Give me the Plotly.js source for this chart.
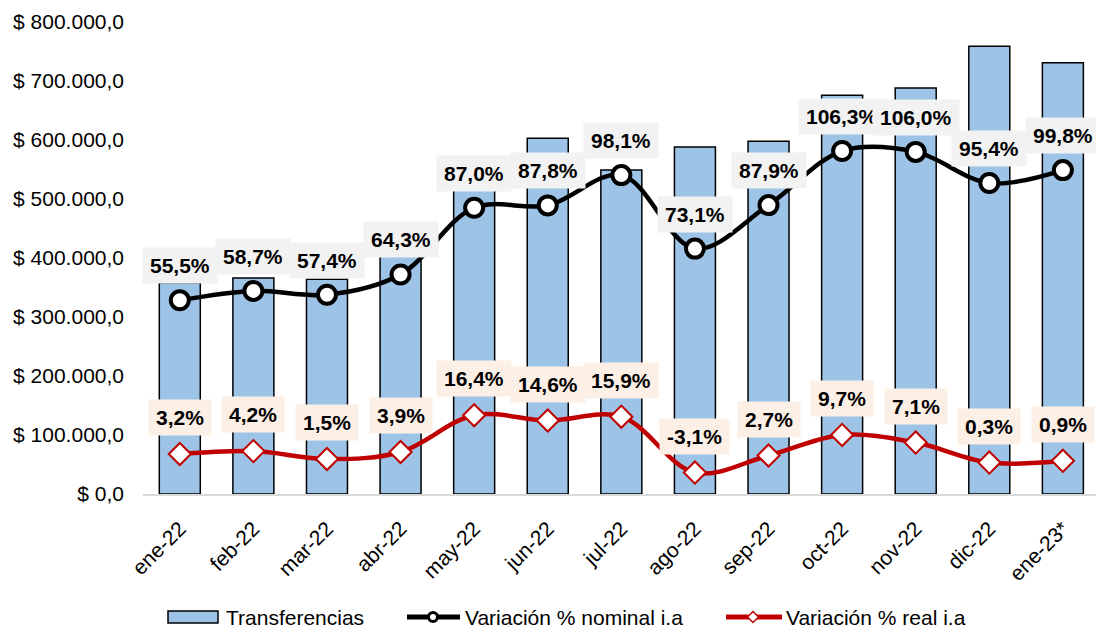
<!DOCTYPE html>
<html>
<head>
<meta charset="utf-8">
<script src="https://cdn.plot.ly/plotly-3.0.1.min.js"></script>
<style>html,body{margin:0;padding:0;background:#fff;}#chart{width:1096px;height:628px;}</style>
</head>
<body>
<div id="chart"></div>
<script>
const categories = ["ene-22","feb-22","mar-22","abr-22","may-22","jun-22","jul-22","ago-22","sep-22","oct-22","nov-22","dic-22","ene-23*"];
const transferencias = [358000, 366000, 364000, 410000, 515000, 603000, 549000, 588000, 598000, 676000, 688000, 759000, 731000];
const nominal = [55.5, 58.7, 57.4, 64.3, 87.0, 87.8, 98.1, 73.1, 87.9, 106.3, 106.0, 95.4, 99.8];
const real = [3.2, 4.2, 1.5, 3.9, 16.4, 14.6, 15.9, -3.1, 2.7, 9.7, 7.1, 0.3, 0.9];
const seriesNames = ['Transferencias', 'Variación % nominal i.a', 'Variación % real i.a'];

const fmtPct = v => v.toFixed(1).replace('.', ',') + '%';
const FONT = 'Liberation Sans, Arial, sans-serif';

const BAR_FILL = '#9dc3e6', NOM_COL = '#000000', REAL_COL = '#c00000';

const traces = [
  {
    type: 'bar', name: seriesNames[0], x: categories, y: transferencias,
    marker: {color: BAR_FILL, line: {color: '#000000', width: 1.5}},
    hoverinfo: 'skip', showlegend: false
  },
  {
    type: 'scatter', mode: 'lines+markers', name: seriesNames[1],
    x: categories, y: nominal, yaxis: 'y2', showlegend: false,
    line: {color: NOM_COL, width: 4.5, shape: 'spline', smoothing: 1},
    marker: {symbol: 'circle', size: 18, color: '#ffffff', line: {color: NOM_COL, width: 4}},
    hoverinfo: 'skip'
  },
  {
    type: 'scatter', mode: 'lines+markers', name: seriesNames[2],
    x: categories, y: real, yaxis: 'y2', showlegend: false,
    line: {color: REAL_COL, width: 4.5, shape: 'spline', smoothing: 1},
    marker: {symbol: 'diamond', size: 17, color: '#ffffff', line: {color: REAL_COL, width: 2}},
    hoverinfo: 'skip'
  }
];
// legend-only entries (symbols are drawn as shapes below)
['legend', 'legend2', 'legend3'].forEach((lg, i) => {
  traces.push({
    type: 'scatter', mode: 'lines', name: seriesNames[i], x: [null], y: [null],
    line: {color: 'rgba(0,0,0,0)', width: 1}, legend: lg, showlegend: true, hoverinfo: 'skip'
  });
});

const annotations = [];
categories.forEach((c, i) => {
  annotations.push({
    x: c, y: nominal[i], xref: 'x', yref: 'y2', text: fmtPct(nominal[i]),
    showarrow: false, yshift: 34.5, xanchor: 'center', yanchor: 'middle',
    font: {family: FONT, size: 21, color: '#000000', weight: 'bold'},
    bgcolor: '#f2f2f2', borderpad: 7, height: 21
  });
});
categories.forEach((c, i) => {
  annotations.push({
    x: c, y: real[i], xref: 'x', yref: 'y2', text: fmtPct(real[i]),
    showarrow: false, yshift: 36.5, xanchor: 'center', yanchor: 'middle',
    font: {family: FONT, size: 21, color: '#000000', weight: 'bold'},
    bgcolor: '#fcefe6', borderpad: 7, height: 21
  });
});

// legend symbol shapes (pixel -> paper conversion)
const PL = 143, PW = 953, PB = 494, PH = 472;
const px = v => (v - PL) / PW;
const py = v => (PB - v) / PH;
const LY = 617;
const shapes = [
  {type: 'rect', xref: 'paper', yref: 'paper', x0: px(168), x1: px(218), y0: py(LY - 6), y1: py(LY + 6),
   fillcolor: BAR_FILL, line: {color: '#000000', width: 1.5}},
  {type: 'line', xref: 'paper', yref: 'paper', x0: px(407), x1: px(460), y0: py(LY), y1: py(LY),
   line: {color: NOM_COL, width: 5}},
  {type: 'circle', xref: 'paper', yref: 'paper', x0: px(433 - 4.5), x1: px(433 + 4.5), y0: py(LY - 4.5), y1: py(LY + 4.5),
   fillcolor: '#ffffff', line: {color: NOM_COL, width: 3}},
  {type: 'line', xref: 'paper', yref: 'paper', x0: px(726), x1: px(782), y0: py(LY), y1: py(LY),
   line: {color: REAL_COL, width: 5}},
  {type: 'path', xref: 'paper', yref: 'paper',
   path: `M${px(753 - 5.5)},${py(LY)} L${px(753)},${py(LY - 5.5)} L${px(753 + 5.5)},${py(LY)} L${px(753)},${py(LY + 5.5)} Z`,
   fillcolor: '#ffffff', line: {color: REAL_COL, width: 1.5}}
];

const legendBase = {
  orientation: 'h', xanchor: 'left', y: -0.26, yanchor: 'middle',
  font: {family: FONT, size: 21, color: '#000000'}, bgcolor: 'rgba(0,0,0,0)'
};

const layout = {
  width: 1096, height: 628,
  margin: {l: 143, r: 0, t: 22, b: 134, autoexpand: false},
  paper_bgcolor: '#ffffff', plot_bgcolor: '#ffffff',
  font: {family: FONT, size: 21, color: '#000000'},
  separators: ',.',
  bargap: 0.443,
  showlegend: true,
  legend: Object.assign({}, legendBase, {x: 0.0451}),
  legend2: Object.assign({}, legendBase, {x: 0.2959}),
  legend3: Object.assign({}, legendBase, {x: 0.6327}),
  xaxis: {
    type: 'category', range: [-0.5, 12.45], tickangle: -45,
    showline: true, linecolor: '#d9d9d9', linewidth: 2,
    ticks: '', showgrid: false, zeroline: false, ticklabelstandoff: 12,
    tickfont: {family: FONT, size: 21, color: '#000000'}
  },
  yaxis: {
    range: [0, 800000], dtick: 100000, tick0: 0,
    tickprefix: '$ ', tickformat: ',.1f',
    showgrid: false, zeroline: false, showline: false, ticks: '',
    ticklabelstandoff: 18,
    tickfont: {family: FONT, size: 21, color: '#000000'}
  },
  yaxis2: {
    overlaying: 'y', side: 'right', range: [-10.4, 150.2],
    visible: false, showgrid: false, zeroline: false
  },
  annotations: annotations,
  shapes: shapes
};

Plotly.newPlot('chart', traces, layout, {displayModeBar: false, staticPlot: true});
</script>
</body>
</html>
